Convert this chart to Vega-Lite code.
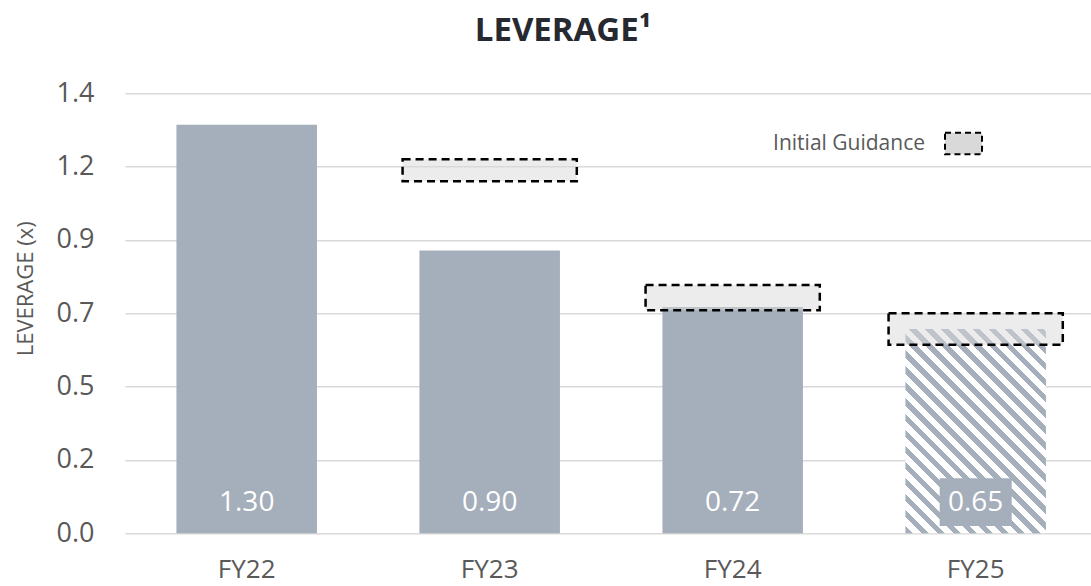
{
  "$schema": "https://vega.github.io/schema/vega-lite/v6.json",
  "width": 966,
  "height": 440,
  "autosize": {"type": "none"},
  "padding": {"left": 125, "top": 93.3, "right": 0, "bottom": 52.7},
  "background": "white",
  "title": {
    "text": "LEVERAGE¹",
    "font": "Open Sans",
    "fontSize": 33,
    "fontWeight": "bold",
    "color": "#262a30",
    "anchor": "middle",
    "frame": "group",
    "dx": -45,
    "baseline": "alphabetic",
    "offset": 5
  },
  "datasets": {
    "leverage": [
      {"year": "FY22", "leverage": 1.30, "status": "Actual"},
      {"year": "FY23", "leverage": 0.90, "status": "Actual"},
      {"year": "FY24", "leverage": 0.72, "status": "Actual"},
      {"year": "FY25", "leverage": 0.65, "status": "Estimate"}
    ],
    "guidance": [
      {"year": "FY23", "low": 1.12, "high": 1.19, "label": "Initial Guidance"},
      {"year": "FY24", "low": 0.71, "high": 0.79, "label": "Initial Guidance"},
      {"year": "FY25", "low": 0.60, "high": 0.70, "label": "Initial Guidance"}
    ]
  },
  "data": {"name": "leverage"},
  "config": {
    "view": {"stroke": null},
    "axisY": {
      "domain": false,
      "ticks": false,
      "tickSize": 0,
      "grid": true,
      "gridColor": "#d9d9d9",
      "gridWidth": 1.5,
      "labelFont": "Open Sans",
      "labelFontSize": 27,
      "labelColor": "#595959",
      "labelPadding": 31,
      "labelBaseline": "middle",
      "titleFont": "Open Sans",
      "titleFontSize": 22,
      "titleFontWeight": "normal",
      "titleColor": "#595959",
      "titleAngle": 270,
      "titleAlign": "center",
      "titleBaseline": "alphabetic",
      "titleX": -93,
      "titleY": 195
    },
    "axisX": {
      "domain": false,
      "ticks": false,
      "tickSize": 0,
      "grid": false,
      "labelFont": "Open Sans",
      "labelFontSize": 26,
      "labelColor": "#595959",
      "labelPadding": 23,
      "labelBaseline": "top",
      "labelAngle": 0
    }
  },
  "encoding": {
    "x": {
      "field": "year",
      "type": "nominal",
      "title": null,
      "sort": ["FY22", "FY23", "FY24", "FY25"],
      "scale": {"type": "band", "paddingInner": 0.4218, "paddingOuter": 0.1986, "align": 0.533}
    }
  },
  "layer": [
    {
      "transform": [{"filter": "datum.status === 'Actual'"}],
      "mark": {"type": "bar", "color": "#a5aebb"},
      "encoding": {
        "y": {
          "field": "leverage",
          "type": "quantitative",
          "title": "LEVERAGE (x)",
          "scale": {"domain": [0, 1.4], "nice": false, "zero": true},
          "axis": {
            "values": [0, 0.233333, 0.466667, 0.7, 0.933333, 1.166667, 1.4],
            "format": ".1f"
          }
        }
      }
    },
    {
      "transform": [{"filter": "datum.status === 'Estimate'"}],
      "mark": {
        "type": "bar",
        "fill": {
          "gradient": "linear",
          "x1": 0, "y1": 1, "x2": 0.788, "y2": -0.1458,
          "stops": [
            {"offset": 0, "color": "#a5aebb"}, {"offset": 0.0209, "color": "#a5aebb"}, {"offset": 0.0209, "color": "#ffffff"}, {"offset": 0.0464, "color": "#ffffff"},
            {"offset": 0.0464, "color": "#a5aebb"}, {"offset": 0.0672, "color": "#a5aebb"}, {"offset": 0.0672, "color": "#ffffff"}, {"offset": 0.0927, "color": "#ffffff"},
            {"offset": 0.0927, "color": "#a5aebb"}, {"offset": 0.1136, "color": "#a5aebb"}, {"offset": 0.1136, "color": "#ffffff"}, {"offset": 0.1391, "color": "#ffffff"},
            {"offset": 0.1391, "color": "#a5aebb"}, {"offset": 0.1599, "color": "#a5aebb"}, {"offset": 0.1599, "color": "#ffffff"}, {"offset": 0.1854, "color": "#ffffff"},
            {"offset": 0.1854, "color": "#a5aebb"}, {"offset": 0.2063, "color": "#a5aebb"}, {"offset": 0.2063, "color": "#ffffff"}, {"offset": 0.2318, "color": "#ffffff"},
            {"offset": 0.2318, "color": "#a5aebb"}, {"offset": 0.2526, "color": "#a5aebb"}, {"offset": 0.2526, "color": "#ffffff"}, {"offset": 0.2781, "color": "#ffffff"},
            {"offset": 0.2781, "color": "#a5aebb"}, {"offset": 0.2990, "color": "#a5aebb"}, {"offset": 0.2990, "color": "#ffffff"}, {"offset": 0.3245, "color": "#ffffff"},
            {"offset": 0.3245, "color": "#a5aebb"}, {"offset": 0.3453, "color": "#a5aebb"}, {"offset": 0.3453, "color": "#ffffff"}, {"offset": 0.3708, "color": "#ffffff"},
            {"offset": 0.3708, "color": "#a5aebb"}, {"offset": 0.3917, "color": "#a5aebb"}, {"offset": 0.3917, "color": "#ffffff"}, {"offset": 0.4172, "color": "#ffffff"},
            {"offset": 0.4172, "color": "#a5aebb"}, {"offset": 0.4380, "color": "#a5aebb"}, {"offset": 0.4380, "color": "#ffffff"}, {"offset": 0.4635, "color": "#ffffff"},
            {"offset": 0.4635, "color": "#a5aebb"}, {"offset": 0.4844, "color": "#a5aebb"}, {"offset": 0.4844, "color": "#ffffff"}, {"offset": 0.5099, "color": "#ffffff"},
            {"offset": 0.5099, "color": "#a5aebb"}, {"offset": 0.5307, "color": "#a5aebb"}, {"offset": 0.5307, "color": "#ffffff"}, {"offset": 0.5562, "color": "#ffffff"},
            {"offset": 0.5562, "color": "#a5aebb"}, {"offset": 0.5771, "color": "#a5aebb"}, {"offset": 0.5771, "color": "#ffffff"}, {"offset": 0.6026, "color": "#ffffff"},
            {"offset": 0.6026, "color": "#a5aebb"}, {"offset": 0.6234, "color": "#a5aebb"}, {"offset": 0.6234, "color": "#ffffff"}, {"offset": 0.6489, "color": "#ffffff"},
            {"offset": 0.6489, "color": "#a5aebb"}, {"offset": 0.6698, "color": "#a5aebb"}, {"offset": 0.6698, "color": "#ffffff"}, {"offset": 0.6953, "color": "#ffffff"},
            {"offset": 0.6953, "color": "#a5aebb"}, {"offset": 0.7161, "color": "#a5aebb"}, {"offset": 0.7161, "color": "#ffffff"}, {"offset": 0.7416, "color": "#ffffff"},
            {"offset": 0.7416, "color": "#a5aebb"}, {"offset": 0.7625, "color": "#a5aebb"}, {"offset": 0.7625, "color": "#ffffff"}, {"offset": 0.7880, "color": "#ffffff"},
            {"offset": 0.7880, "color": "#a5aebb"}, {"offset": 0.8088, "color": "#a5aebb"}, {"offset": 0.8088, "color": "#ffffff"}, {"offset": 0.8343, "color": "#ffffff"},
            {"offset": 0.8343, "color": "#a5aebb"}, {"offset": 0.8552, "color": "#a5aebb"}, {"offset": 0.8552, "color": "#ffffff"}, {"offset": 0.8807, "color": "#ffffff"},
            {"offset": 0.8807, "color": "#a5aebb"}, {"offset": 0.9015, "color": "#a5aebb"}, {"offset": 0.9015, "color": "#ffffff"}, {"offset": 0.9270, "color": "#ffffff"},
            {"offset": 0.9270, "color": "#a5aebb"}, {"offset": 0.9479, "color": "#a5aebb"}, {"offset": 0.9479, "color": "#ffffff"}, {"offset": 0.9734, "color": "#ffffff"},
            {"offset": 0.9734, "color": "#a5aebb"}, {"offset": 0.9942, "color": "#a5aebb"}, {"offset": 0.9942, "color": "#ffffff"}, {"offset": 1, "color": "#ffffff"}
          ]
        }
      },
      "encoding": {
        "y": {"field": "leverage", "type": "quantitative", "title": "LEVERAGE (x)"}
      }
    },
    {
      "transform": [{"filter": "datum.status === 'Estimate'"}],
      "mark": {"type": "bar", "color": "#a5aebb", "width": 72},
      "encoding": {
        "y": {"datum": 0.175, "type": "quantitative", "title": "LEVERAGE (x)"},
        "y2": {"datum": 0.023}
      }
    },
    {
      "mark": {
        "type": "text",
        "font": "Open Sans",
        "fontSize": 28,
        "color": "#ffffff",
        "baseline": "middle",
        "align": "center",
        "dy": -30
      },
      "encoding": {
        "y": {"datum": 0, "type": "quantitative", "title": "LEVERAGE (x)"},
        "text": {"field": "leverage", "type": "quantitative", "format": ".2f"}
      }
    },
    {
      "data": {"name": "guidance"},
      "mark": {
        "type": "bar",
        "width": {"band": 1.24},
        "fillOpacity": 0.5,
        "stroke": "#000000",
        "strokeWidth": 2.5,
        "strokeDash": [8, 5]
      },
      "encoding": {
        "y": {"field": "high", "type": "quantitative", "title": "LEVERAGE (x)"},
        "y2": {"field": "low"},
        "fill": {
          "field": "label",
          "type": "nominal",
          "scale": {"range": ["#d9d9d9"]},
          "legend": {
            "orient": "none",
            "legendX": 819,
            "legendY": 30.7,
            "title": null,
            "padding": 0,
            "symbolType": "M-1,-0.58H1V0.58H-1Z",
            "symbolSize": 1369,
            "symbolStrokeColor": "#000000",
            "symbolStrokeWidth": 2,
            "symbolDash": [6, 4],
            "symbolOpacity": 1,
            "labelAlign": "right",
            "labelOffset": -58,
            "labelLimit": 300,
            "labelFont": "Open Sans",
            "labelFontSize": 21,
            "labelColor": "#595959",
            "encode": {"symbols": {"update": {"fillOpacity": {"value": 1}, "opacity": {"value": 1}}}}
          }
        }
      }
    }
  ]
}
